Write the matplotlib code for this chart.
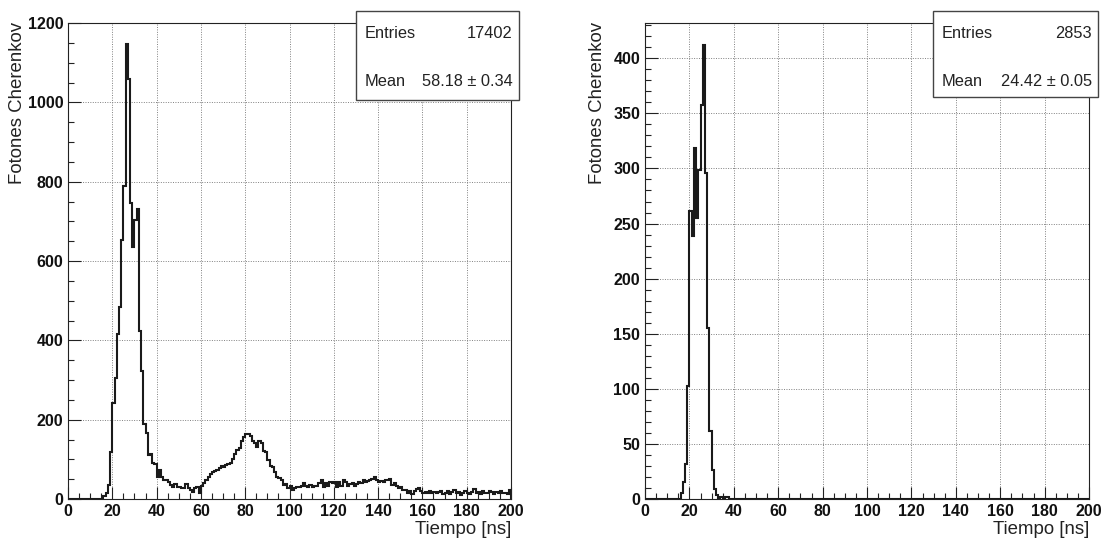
import numpy as np
import matplotlib
matplotlib.use("Agg")
import matplotlib.pyplot as plt
from matplotlib.ticker import MultipleLocator
from matplotlib.patches import Rectangle

# 1 ns bins from 0 to 200 ns
bin_edges = np.arange(0, 201, 1)

# left: all photons
left_counts = [0] * 16 + [
    7, 14, 35, 119, 241, 306, 415, 483, 654, 789,            # 16-25
    1146, 1060, 745, 636, 703, 731, 424, 323, 188, 167,      # 26-35
    111, 113, 90, 88, 56, 73, 56, 48, 47, 42,                # 36-45
    36, 31, 38, 30, 30, 27, 27, 39, 27, 23,                  # 46-55
    18, 27, 30, 16, 33, 40, 48, 55, 62, 69,                  # 56-65
    70, 73, 77, 83, 80, 85, 88, 90, 100, 113,                # 66-75
    124, 128, 145, 157, 164, 164, 159, 146, 140, 132,        # 76-85
    146, 140, 121, 119, 98, 83, 81, 69, 56, 52,              # 86-95
    48, 35, 38, 27, 33, 23, 27, 29, 29, 33,                  # 96-105
    40, 33, 29, 35, 29, 33, 33, 40, 48, 29,                  # 106-115
    40, 33, 44, 40, 44, 29, 42, 33, 48, 44,                  # 116-125
    33, 38, 40, 33, 37, 44, 40, 48, 44, 46,                  # 126-135
    48, 50, 55, 48, 44, 46, 44, 48, 48, 50,                  # 136-145
    35, 40, 33, 27, 31, 23, 23, 15, 19, 13,                  # 146-155
    19, 24, 27, 21, 14, 18, 16, 20, 15, 17,                  # 156-165
    14, 18, 20, 13, 16, 19, 12, 17, 22, 14,                  # 166-175
    18, 10, 16, 20, 15, 13, 18, 24, 15, 17,                  # 176-185
    12, 19, 16, 14, 20, 18, 13, 17, 15, 21,                  # 186-195
    14, 16, 12, 22,                                          # 196-199
]

# right: direct photons only
right_counts = [0] * 16 + [
    5, 15, 32, 103, 261, 239, 319, 255, 299, 358,            # 16-25
    412, 296, 155, 62, 26, 9, 4, 1, 2, 0,                    # 26-35
    2, 2,                                                    # 36-37
] + [0] * 162

stats = [("17402", "58.18 \u00b1 0.34"), ("2853", "24.42 \u00b1 0.05")]
ymax = [1200, 432]
ymajor = [200, 50]
yminor = [50, 10]

W, H = 1107, 540
plt.rcParams["font.family"] = ["Liberation Sans", "DejaVu Sans"]

fig = plt.figure(figsize=(W / 100, H / 100), dpi=100)
ax_left = fig.add_axes([68 / W, 41 / H, 443 / W, 476 / H])
ax_right = fig.add_axes([645 / W, 41 / H, 444 / W, 476 / H])

panels = [
    (ax_left, left_counts, 18, 511, (356, 11, 519, 100)),
    (ax_right, right_counts, 597, 1089, (933, 11, 1098, 97)),
]

for i, (ax, counts, ylab_x, xlab_right, box) in enumerate(panels):
    ax.stairs(counts, bin_edges, color="#1a1a1a", linewidth=1.5, baseline=0, zorder=3)
    ax.set_xlim(0, 200)
    ax.set_ylim(0, ymax[i])
    ax.xaxis.set_major_locator(MultipleLocator(20))
    ax.xaxis.set_minor_locator(MultipleLocator(5))
    ax.yaxis.set_major_locator(MultipleLocator(ymajor[i]))
    ax.yaxis.set_minor_locator(MultipleLocator(yminor[i]))
    ax.tick_params(which="both", direction="in", top=False, right=False,
                   width=0.8, color="#222222")
    ax.tick_params(which="major", length=9, labelsize=11.5, pad=3.5)
    ax.tick_params(which="minor", length=4.5)
    for lab in ax.get_xticklabels() + ax.get_yticklabels():
        lab.set_fontweight("bold")
        lab.set_color("#111111")
    ax.grid(True, which="major", color="#808080", linestyle=(0, (1, 1.5)), linewidth=0.7)
    ax.set_axisbelow(True)
    for sp in ax.spines.values():
        sp.set_linewidth(0.8)
        sp.set_color("#222222")

    fig.text(ylab_x / W, 1 - 22 / H, "Fotones Cherenkov", rotation=90,
             ha="center", va="top", fontsize=13.4, color="#222222")
    fig.text(xlab_right / W, 1 - 530 / H, "Tiempo [ns]",
             ha="right", va="center", fontsize=13.4, color="#222222")

    # stats box
    x0, y0, x1, y1 = box
    fig.add_artist(Rectangle((x0 / W, 1 - y1 / H), (x1 - x0) / W, (y1 - y0) / H,
                             transform=fig.transFigure, facecolor="white",
                             edgecolor="#444444", linewidth=1.0, zorder=10))
    entries, mean = stats[i]
    fig.text((x0 + 9) / W, 1 - 33 / H, "Entries", ha="left", va="center",
             fontsize=11.8, color="#222222", zorder=11)
    fig.text((x1 - 6) / W, 1 - 33 / H, entries, ha="right", va="center",
             fontsize=11.8, color="#222222", zorder=11)
    fig.text((x0 + 9) / W, 1 - 82 / H, "Mean", ha="left", va="center",
             fontsize=11.8, color="#222222", zorder=11)
    fig.text((x1 - 6) / W, 1 - 82 / H, mean, ha="right", va="center",
             fontsize=11.8, color="#222222", zorder=11)

fig.savefig("out.png", dpi=100)
